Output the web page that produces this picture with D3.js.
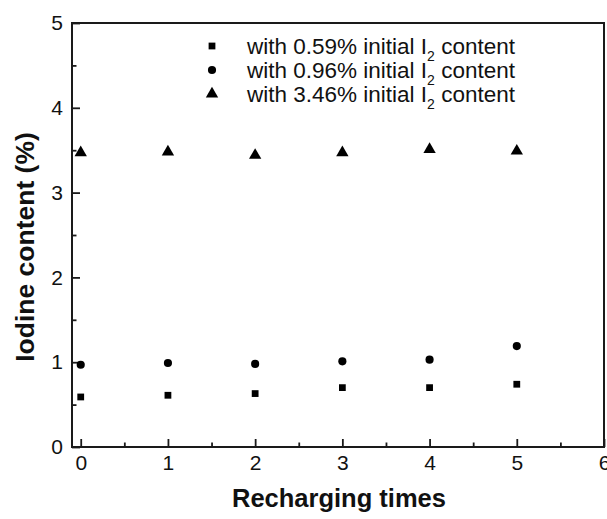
<!DOCTYPE html>
<html><head><meta charset="utf-8">
<script src="https://cdn.jsdelivr.net/npm/d3@7/dist/d3.min.js"></script>
<style>body{margin:0;background:#fff}svg{display:block}text{font-family:"Liberation Sans",Arial,sans-serif;fill:#111}</style>
</head><body><svg id="c" width="607" height="519"></svg>
<script>
const recharging = [0, 1, 2, 3, 4, 5];
const seriesNames = ["with 0.59% initial I", "with 0.96% initial I", "with 3.46% initial I"];
const seriesShapes = ["square", "circle", "triangle"];
const s059 = [0.59, 0.61, 0.63, 0.70, 0.70, 0.74];
const s096 = [0.97, 0.99, 0.98, 1.01, 1.03, 1.19];
const s346 = [3.47, 3.48, 3.44, 3.47, 3.51, 3.49];
const xTicks = [0, 1, 2, 3, 4, 5, 6];
const yTicks = [0, 1, 2, 3, 4, 5];
const series = [s059, s096, s346];

const svg = d3.select("#c");
const L = 72, R = 604, T = 23, B = 447;
const x = d3.scaleLinear().domain([-0.1, 6]).range([L, R]);
const y = d3.scaleLinear().domain([0, 5]).range([B, T]);
const col = "#1a1a1a";

// frame
svg.append("rect").attr("x", L).attr("y", T).attr("width", R - L).attr("height", B - T)
  .attr("fill", "none").attr("stroke", col).attr("stroke-width", 2);

// minor ticks
const xMinor = d3.range(0.5, 6, 1);
const yMinor = d3.range(0.5, 5, 1);
svg.append("g").attr("transform", `translate(0,${B})`)
  .call(d3.axisBottom(x).tickValues(xMinor).tickSize(-4.5).tickFormat(""))
  .call(g => { g.select(".domain").remove(); g.selectAll("line").attr("stroke", col).attr("stroke-width", 1.8); });
svg.append("g").attr("transform", `translate(${L},0)`)
  .call(d3.axisLeft(y).tickValues(yMinor).tickSize(-4.5).tickFormat(""))
  .call(g => { g.select(".domain").remove(); g.selectAll("line").attr("stroke", col).attr("stroke-width", 1.8); });

// major axes
const xa = svg.append("g").attr("transform", `translate(0,${B})`)
  .call(d3.axisBottom(x).tickValues(xTicks).tickSize(-8).tickPadding(8).tickFormat(d3.format("d")));
const ya = svg.append("g").attr("transform", `translate(${L},0)`)
  .call(d3.axisLeft(y).tickValues(yTicks).tickSize(-8).tickPadding(9).tickFormat(d3.format("d")));
[xa, ya].forEach(g => {
  g.select(".domain").remove();
  g.selectAll("line").attr("stroke", col).attr("stroke-width", 1.8);
  g.selectAll("text").attr("font-size", 21).attr("fill", "#111")
    .style("font-family", '"Liberation Sans",Arial,sans-serif');
});

// axis titles
svg.append("text").attr("x", (L + R) / 2 + 1).attr("y", 507).attr("text-anchor", "middle")
  .attr("font-size", 25.5).attr("font-weight", "bold").text("Recharging times");
svg.append("text").attr("transform", `translate(34,${(T + B) / 2 + 12}) rotate(-90)`)
  .attr("text-anchor", "middle").attr("font-size", 26.5).attr("font-weight", "bold").text("Iodine content (%)");

// symbols
function sym(shape) {
  if (shape === "square") return d3.symbol().type(d3.symbolSquare).size(46)();
  if (shape === "circle") return d3.symbol().type(d3.symbolCircle).size(52)();
  return d3.symbol().type(d3.symbolTriangle).size(66)();
}
series.forEach((vals, i) => {
  svg.append("g").selectAll("path").data(vals).join("path")
    .attr("d", sym(seriesShapes[i]))
    .attr("transform", (d, j) => `translate(${x(recharging[j])},${y(d)})`)
    .attr("fill", "#000");
});

// legend
const legY = [46, 70, 94];
seriesNames.forEach((name, i) => {
  svg.append("path").attr("d", sym(seriesShapes[i]))
    .attr("transform", `translate(212,${legY[i]})`).attr("fill", "#000");
  const t = svg.append("text").attr("x", 247).attr("y", legY[i] + 8).attr("font-size", 22.5);
  t.append("tspan").text(name);
  t.append("tspan").attr("font-size", 14).attr("dy", 7).text("2");
  t.append("tspan").attr("dy", -7).text(" content");
});
</script></body></html>
